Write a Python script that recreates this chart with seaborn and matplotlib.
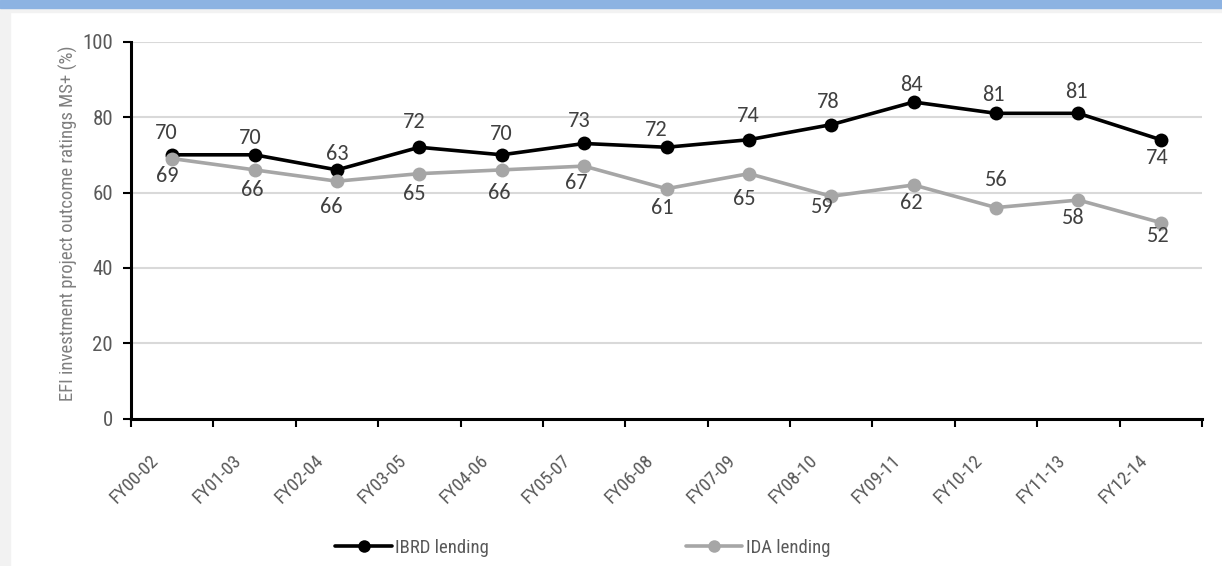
import numpy as np
import pandas as pd
import matplotlib
matplotlib.use("Agg")
import matplotlib.pyplot as plt
import matplotlib.font_manager as fm
import seaborn as sns
from matplotlib.patches import Rectangle
from matplotlib.lines import Line2D
from matplotlib.transforms import ScaledTranslation

# ---- data -------------------------------------------------------------
periods = ["FY00-02", "FY01-03", "FY02-04", "FY03-05", "FY04-06", "FY05-07",
           "FY06-08", "FY07-09", "FY08-10", "FY09-11", "FY10-12", "FY11-13",
           "FY12-14"]
ibrd = [70, 70, 66, 72, 70, 73, 72, 74, 78, 84, 81, 81, 74]
ida = [69, 66, 63, 65, 66, 67, 61, 65, 59, 62, 56, 58, 52]
series_names = ["IBRD lending", "IDA lending"]
y_ticks = [0, 20, 40, 60, 80, 100]
y_label = "EFI investment project outcome ratings MS+ (%)"

# ---- label placement (pixel offsets from each marker; +dy is up) -------
ibrd_offsets = [(-6, 22), (-4, 17), (-6, -37), (-5, 25), (0, 21), (-5, 22),
                (-10, 17), (-1, 24), (-3, 23), (-2, 17), (-3, 18), (-2, 21),
                (-4, -18)]
ida_offsets = [(-5, -17), (-2, -20), (0, 27), (-5, -20), (-2, -23), (-8, -17),
               (-4, -19), (-5, -25), (-9, -11), (-2, -18), (0, 28), (-5, -18),
               (-2, -13)]
ida_leader = [False, False, True] + [False] * 10

colors = {"IBRD lending": "#000000", "IDA lending": "#A6A6A6"}


def first_available(candidates):
    have = {f.name for f in fm.fontManager.ttflist}
    for name in candidates:
        if name in have:
            return name
    return "DejaVu Sans"


narrow_name = first_available(["Liberation Sans Narrow", "Arial Narrow",
                               "Roboto Condensed", "Archivo Narrow",
                               "Pragati Narrow", "PT Sans Narrow"])
label_name = first_available(["Carlito", "Calibri", "Lato"])
narrow = [narrow_name, "DejaVu Sans"]
label_font = [label_name, "DejaVu Sans"]
label_size = 16 if label_name in ("Carlito", "Calibri") else 14.5

sns.set_theme(style="white")
plt.rcParams["font.family"] = narrow

df = pd.DataFrame({
    "period": periods * 2,
    "rating": ibrd + ida,
    "series": [series_names[0]] * len(periods) + [series_names[1]] * len(periods),
})

W, H = 1222, 566
fig = plt.figure(figsize=(W / 100, H / 100), dpi=100)
fig.patch.set_facecolor("white")

# page decoration: blue band on top and light grey margin
fig.patches.append(Rectangle((0, 1 - 12 / H), 1, 12 / H, transform=fig.transFigure,
                             color="#F2F2F2", zorder=0))
fig.patches.append(Rectangle((0, 0), 10 / W, 1, transform=fig.transFigure,
                             color="#F2F2F2", zorder=0))
fig.patches.append(Rectangle((0, 1 - 7.5 / H), 1, 7.5 / H, transform=fig.transFigure,
                             color="#8DB3E2", zorder=0))

ax = fig.add_axes([131 / W, 1 - 418.7 / H, (1202 - 131) / W, (418.7 - 41.7) / H])
ax.set_facecolor("none")

sns.lineplot(data=df, x="period", y="rating", hue="series", palette=colors,
             marker="o", markersize=10, markeredgewidth=0, linewidth=2.6,
             sort=False, legend=False, ax=ax, zorder=3)

# value labels
xs = np.arange(len(periods))
for vals, offs, leaders in ((ibrd, ibrd_offsets, [False] * 13),
                            (ida, ida_offsets, ida_leader)):
    for x, v, (dx, dy), lead in zip(xs, vals, offs, leaders):
        kw = {}
        if lead:
            kw["arrowprops"] = dict(arrowstyle="-", color="#A6A6A6", lw=0.9,
                                    shrinkA=6, shrinkB=0)
        ax.annotate(f"{v}", xy=(x, v), xytext=(dx, dy), textcoords="offset pixels",
                    ha="center", va="center", fontsize=label_size, color="#404040",
                    family=label_font, zorder=1 if lead else 4, **kw)

# axes styling
ax.set_ylim(0, 100)
ax.set_yticks(y_ticks)
ax.set_xlim(-0.5, len(periods) - 0.5)
ax.set_xticks(xs)
ax.set_xticks(np.arange(-0.5, len(periods), 1.0), minor=True)
ax.set_xticklabels(periods, rotation=45, ha="right", va="center",
                   rotation_mode="anchor", fontsize=13.5, color="#595959")
ax.tick_params(axis="x", which="major", length=0, pad=28)
ax.tick_params(axis="x", which="minor", length=6, width=1.5, color="black",
               direction="out", bottom=True)
ax.tick_params(axis="y", length=6, width=1.5, color="black", direction="out",
               left=True, pad=7, labelsize=15, labelcolor="#595959")
shift = ScaledTranslation(-16 / 100, 0, fig.dpi_scale_trans)
for lab in ax.get_xticklabels():
    lab.set_transform(lab.get_transform() + shift)

ax.yaxis.grid(True, color="#D9D9D9", linewidth=1.5, zorder=0)
ax.xaxis.grid(False)
ax.set_axisbelow(True)
for s in ("top", "right"):
    ax.spines[s].set_visible(False)
for s in ("left", "bottom"):
    ax.spines[s].set_color("black")
    ax.spines[s].set_linewidth(2.2)
ax.set_xlabel("")
ax.set_ylabel("")

fig.text(68 / W, 1 - 223 / H, y_label, rotation=90, ha="center", va="center",
         fontsize=13.5, color="#7F7F7F")

handles = [Line2D([0], [0], color=colors[n], lw=2.6, marker="o", markersize=9,
                  markeredgewidth=0) for n in series_names]
leg = fig.legend(handles, series_names, loc="center", ncol=2,
                 bbox_to_anchor=(583 / W, 1 - 548 / H), bbox_transform=fig.transFigure,
                 frameon=False, fontsize=13.5, handlelength=3.0, handletextpad=0.2,
                 columnspacing=10.5)
for t in leg.get_texts():
    t.set_color("#595959")

fig.savefig("out.png", dpi=100)
